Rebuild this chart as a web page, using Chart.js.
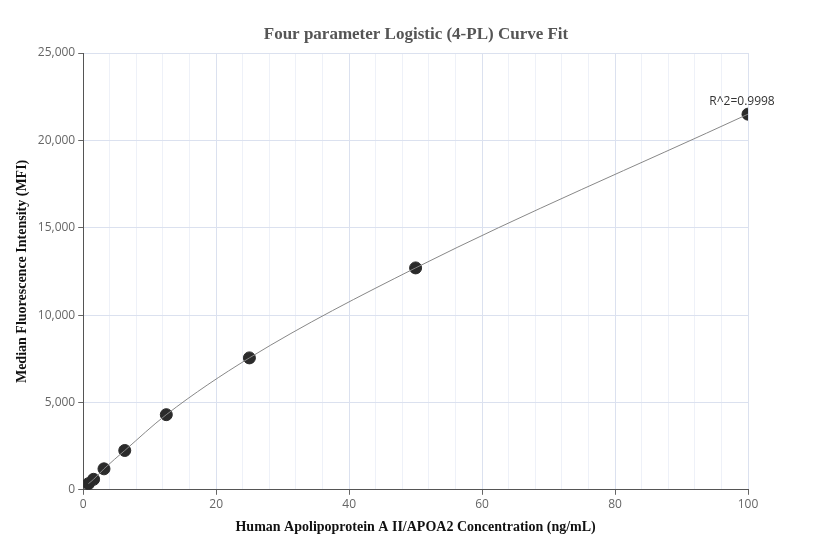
<!DOCTYPE html>
<html>
<head>
<meta charset="utf-8">
<script src="https://cdn.jsdelivr.net/npm/chart.js@4/dist/chart.umd.min.js"></script>
<style>
  html, body { margin: 0; padding: 0; background: #fff; }
  #wrap { width: 832px; height: 560px; }
</style>
</head>
<body>
<div id="wrap"><canvas id="chart"></canvas></div>
<script>
const concentrations = [0.78, 1.56, 3.125, 6.25, 12.5, 25, 50, 100];
const mfiValues = [350, 600, 1200, 2250, 4300, 7550, 12700, 21500];
const rSquaredLabel = 'R^2=0.9998';
const chartTitle = 'Four parameter Logistic (4-PL) Curve Fit';

const points = concentrations.map((x, i) => ({ x: x, y: mfiValues[i] }));

// title centred on the whole canvas, plus the R^2 note over the last point
const textPlugin = {
    id: 'texts',
    afterDatasetsDraw(chart) {
        const meta = chart.getDatasetMeta(1);
        const last = meta.data[meta.data.length - 1];
        const ctx = chart.ctx;
        ctx.save();
        ctx.font = '12px "Open Sans", sans-serif';
        ctx.fillStyle = '#333';
        ctx.textAlign = 'center';
        ctx.fillText(rSquaredLabel, last.x - 6, last.y - 9);
        ctx.font = 'bold 17px "Liberation Serif", serif';
        ctx.fillStyle = '#555';
        ctx.fillText(chartTitle, chart.width / 2, 39);
        ctx.restore();
    }
};

new Chart(document.getElementById('chart'), {
    type: 'scatter',
    data: {
        datasets: [{
            type: 'line',
            data: points,
            borderColor: '#888',
            borderWidth: 1,
            pointRadius: 0,
            cubicInterpolationMode: 'monotone',
            fill: false
        }, {
            data: points,
            backgroundColor: '#2b2b2b',
            borderColor: '#2b2b2b',
            pointRadius: 6,
            pointHoverRadius: 6
        }]
    },
    options: {
        responsive: true,
        maintainAspectRatio: false,
        animation: false,
        layout: { padding: { left: 10, right: 84, top: 53, bottom: 20 } },
        plugins: {
            legend: { display: false },
            tooltip: { enabled: false },
            title: { display: false }
        },
        scales: {
            x: {
                type: 'linear',
                min: 0,
                max: 100,
                ticks: {
                    stepSize: 4,
                    autoSkip: false,
                    maxRotation: 0,
                    color: '#666',
                    font: { family: '"Open Sans", sans-serif', size: 12 },
                    callback: v => (v % 20 === 0 ? v : '')
                },
                grid: {
                    color: c => (c.tick && c.tick.value % 20 === 0 ? '#dbe1ef' : '#eef1f8'),
                    tickLength: 5,
                    tickColor: c => (c.tick && c.tick.value % 20 === 0 ? '#666' : 'rgba(0,0,0,0)')
                },
                border: { color: '#555' },
                title: {
                    display: true,
                    text: 'Human Apolipoprotein A II/APOA2 Concentration (ng/mL)',
                    color: '#111',
                    font: { family: '"Liberation Serif", serif', size: 14, weight: 'bold' }
                }
            },
            y: {
                min: 0,
                max: 25000,
                ticks: {
                    stepSize: 5000,
                    color: '#666',
                    font: { family: '"Open Sans", sans-serif', size: 12 },
                    callback: v => v.toLocaleString('en-US')
                },
                grid: { color: '#dbe1ef', tickLength: 5, tickColor: '#666' },
                border: { color: '#555' },
                title: {
                    display: true,
                    text: 'Median Fluorescence Intensity (MFI)',
                    color: '#111',
                    font: { family: '"Liberation Serif", serif', size: 14, weight: 'bold' }
                }
            }
        }
    },
    plugins: [textPlugin]
});
</script>
</body>
</html>
